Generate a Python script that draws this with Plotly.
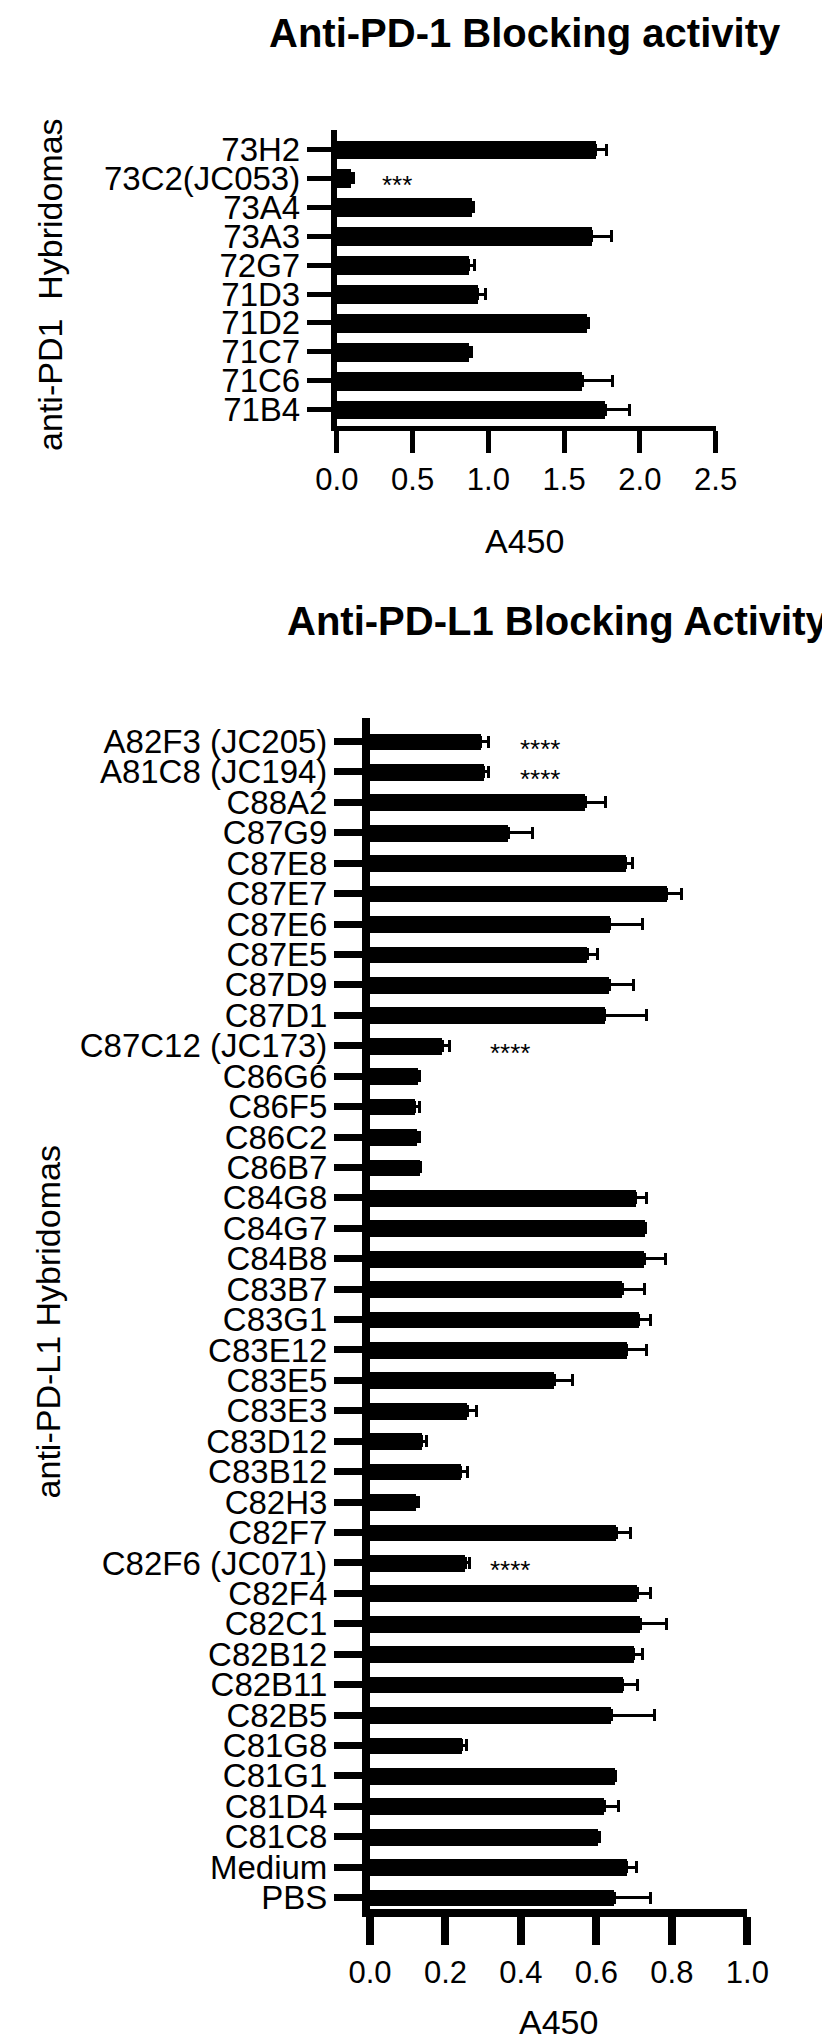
import plotly.graph_objects as go

# anti-PD1 hybridomas (top to bottom)
pd1_clones = ['73H2', '73C2(JC053)', '73A4', '73A3', '72G7', '71D3', '71D2', '71C7', '71C6', '71B4']
pd1_a450 = [1.71, 0.09, 0.89, 1.68, 0.87, 0.93, 1.65, 0.87, 1.62, 1.77]
pd1_err = [0.07, 0.02, 0.01, 0.13, 0.04, 0.05, 0.01, 0.02, 0.20, 0.16]
pd1_stars = {'73C2(JC053)': '***'}

# anti-PD-L1 hybridomas (top to bottom)
pdl1_clones = ['A82F3 (JC205)', 'A81C8 (JC194)', 'C88A2', 'C87G9', 'C87E8', 'C87E7', 'C87E6',
               'C87E5', 'C87D9', 'C87D1', 'C87C12 (JC173)', 'C86G6', 'C86F5', 'C86C2', 'C86B7',
               'C84G8', 'C84G7', 'C84B8', 'C83B7', 'C83G1', 'C83E12', 'C83E5', 'C83E3', 'C83D12',
               'C83B12', 'C82H3', 'C82F7', 'C82F6 (JC071)', 'C82F4', 'C82C1', 'C82B12', 'C82B11',
               'C82B5', 'C81G8', 'C81G1', 'C81D4', 'C81C8', 'Medium', 'PBS']
pdl1_a450 = [0.294, 0.302, 0.570, 0.366, 0.678, 0.787, 0.635, 0.576, 0.634, 0.622, 0.192,
             0.126, 0.118, 0.124, 0.133, 0.704, 0.729, 0.727, 0.668, 0.712, 0.680, 0.488,
             0.258, 0.137, 0.240, 0.122, 0.653, 0.253, 0.708, 0.716, 0.699, 0.670, 0.639,
             0.243, 0.649, 0.621, 0.603, 0.680, 0.647]
pdl1_err = [0.020, 0.013, 0.054, 0.065, 0.019, 0.038, 0.088, 0.027, 0.064, 0.111, 0.020,
            0.004, 0.013, 0.008, 0.002, 0.029, 0.002, 0.056, 0.060, 0.031, 0.053, 0.048,
            0.023, 0.013, 0.018, 0.007, 0.038, 0.012, 0.035, 0.069, 0.023, 0.038, 0.115,
            0.012, 0.002, 0.038, 0.006, 0.026, 0.096]
pdl1_stars = {'A82F3 (JC205)': ('****', 0.45), 'A81C8 (JC194)': ('****', 0.45),
              'C87C12 (JC173)': ('****', 0.37), 'C82F6 (JC071)': ('****', 0.37)}

W, H = 830, 2044
fonte = 'Liberation Sans, Arial, sans-serif'

fig = go.Figure()

fig.add_trace(go.Bar(
    x=pd1_a450, y=pd1_clones, orientation='h', width=0.65,
    marker=dict(color='black', line=dict(width=0)),
    error_x=dict(type='data', array=pd1_err, symmetric=False, arrayminus=[0] * len(pd1_err),
                 color='black', thickness=3, width=6),
    xaxis='x', yaxis='y', showlegend=False))

fig.add_trace(go.Bar(
    x=pdl1_a450, y=pdl1_clones, orientation='h', width=0.55,
    marker=dict(color='black', line=dict(width=0)),
    error_x=dict(type='data', array=pdl1_err, symmetric=False, arrayminus=[0] * len(pdl1_err),
                 color='black', thickness=3, width=6),
    xaxis='x2', yaxis='y2', showlegend=False))

eixo_x = dict(showgrid=False, zeroline=False, showline=True, linecolor='black',
              ticks='outside', tickcolor='black', tickfont=dict(family=fonte, size=31, color='black'))
eixo_y = dict(showgrid=False, zeroline=False, showline=True, linecolor='black',
              ticks='outside', tickcolor='black', type='category', tickmode='array',
              tickfont=dict(family=fonte, size=33, color='black'))

fig.update_layout(
    width=W, height=H,
    margin=dict(l=0, r=0, t=0, b=0),
    paper_bgcolor='white', plot_bgcolor='white',
    bargap=0,
    xaxis=dict(eixo_x, domain=[324 / W, 724 / W], range=[0, 2.5], tickvals=[0, 0.5, 1, 1.5, 2, 2.5],
               ticktext=['0.0', '0.5', '1.0', '1.5', '2.0', '2.5'], linewidth=5, tickwidth=5, ticklen=22,
               anchor='y'),
    yaxis=dict(eixo_y, domain=[1 - 419.5 / H, 1 - 122 / H], range=[9.57, -0.69],
               categoryorder='array', categoryarray=pd1_clones, tickvals=pd1_clones, ticktext=pd1_clones,
               linewidth=6, tickwidth=5, ticklen=24, anchor='x'),
    xaxis2=dict(eixo_x, domain=[359 / W, 757.5 / W], range=[0, 1.0],
                tickvals=[0, 0.2, 0.4, 0.6, 0.8, 1.0],
                ticktext=['0.0', '0.2', '0.4', '0.6', '0.8', '1.0'], linewidth=8, tickwidth=8, ticklen=28,
                anchor='y2'),
    yaxis2=dict(eixo_y, domain=[1 - 1908 / H, 1 - 712 / H], range=[38.39, -0.787],
                categoryorder='array', categoryarray=pdl1_clones, tickvals=pdl1_clones, ticktext=pdl1_clones,
                linewidth=8, tickwidth=7, ticklen=28, anchor='x2'),
)

anotacoes = [
    dict(text='<b>Anti-PD-1 Blocking activity</b>', x=523 / W, y=1 - 25 / H, size=40),
    dict(text='<b>Anti-PD-L1 Blocking Activity</b>', x=558 / W, y=1 - 615 / H, size=40),
    dict(text='A450', x=522 / W, y=1 - 535 / H, size=34),
    dict(text='A450', x=558 / W, y=1 - 2021 / H, size=34),
    dict(text='anti-PD1  Hybridomas', x=21 / W, y=1 - 277 / H, size=34, textangle=-90),
    dict(text='anti-PD-L1 Hybridomas', x=20 / W, y=1 - 1318 / H, size=34, textangle=-90),
]
for a in anotacoes:
    fig.add_annotation(text=a['text'], x=a['x'], y=a['y'], xref='paper', yref='paper',
                       showarrow=False, xanchor='center', yanchor='middle',
                       textangle=a.get('textangle', 0),
                       font=dict(family=fonte, size=a['size'], color='black'))

for clone, estrelas in pd1_stars.items():
    fig.add_annotation(text=estrelas, x=0.40, y=clone, xref='x', yref='y', showarrow=False,
                       yshift=-7, font=dict(family=fonte, size=26, color='black'))

for clone, (estrelas, pos) in pdl1_stars.items():
    fig.add_annotation(text=estrelas, x=pos, y=clone, xref='x2', yref='y2', showarrow=False,
                       yshift=-7, font=dict(family=fonte, size=26, color='black'))

fig.write_html("out.html")
